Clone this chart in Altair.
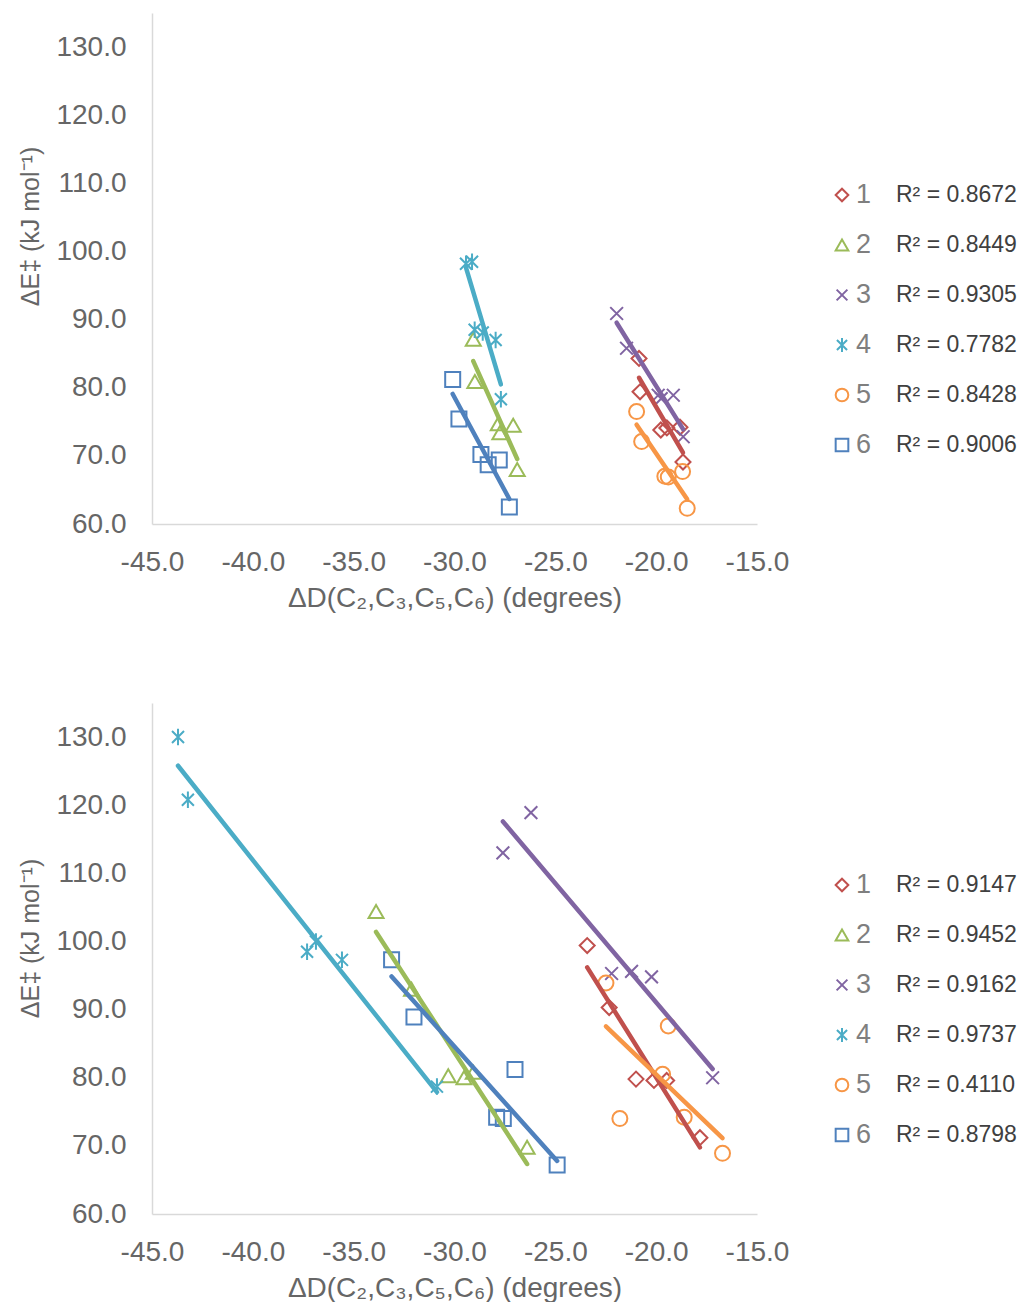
import altair as alt
import pandas as pd

SERIES = ["1", "2", "3", "4", "5", "6"]
COLORS = ["#C0504D", "#9BBB59", "#8064A2", "#4BACC6", "#F79646", "#4F81BD"]
SHAPES = [
    "diamond",
    "triangle-up",
    "M-0.85,-0.85L0.85,0.85M-0.85,0.85L0.85,-0.85",
    "M-0.8,-0.8L0.8,0.8M-0.8,0.8L0.8,-0.8M0,-1.1L0,1.1",
    "circle",
    "square",
]
X_TICKS = [-45, -40, -35, -30, -25, -20, -15]
Y_TICKS = [60, 70, 80, 90, 100, 110, 120, 130]

R2_TOP = ["0.8672", "0.8449", "0.9305", "0.7782", "0.8428", "0.9006"]
R2_BOTTOM = ["0.9147", "0.9452", "0.9162", "0.9737", "0.4110", "0.8798"]

# top panel data
top_x1 = [-20.85, -20.80, -19.77, -19.47, -18.82, -18.67]
top_y1 = [84.3, 79.4, 73.8, 74.1, 74.2, 69.1]
top_x2 = [-29.07, -28.99, -27.83, -27.09, -27.75, -26.89]
top_y2 = [87.1, 80.9, 74.7, 74.5, 73.4, 68.0]
top_x3 = [-21.96, -21.47, -19.90, -19.75, -19.15, -18.66]
top_y3 = [90.9, 85.8, 78.9, 78.4, 78.9, 72.8]
top_x4 = [-29.43, -29.13, -29.00, -28.60, -27.96, -27.70]
top_y4 = [98.2, 98.5, 88.5, 88.1, 87.0, 78.3]
top_x5 = [-20.97, -20.72, -19.57, -19.40, -18.69, -18.46]
top_y5 = [76.5, 72.1, 67.0, 66.9, 67.7, 62.3]
top_x6 = [-30.09, -29.78, -28.69, -28.33, -27.78, -27.28]
top_y6 = [81.2, 75.4, 70.2, 68.7, 69.4, 62.5]

# bottom panel data
bot_x1 = [-23.42, -22.33, -21.00, -20.11, -19.48, -17.83]
bot_y1 = [99.4, 90.3, 79.8, 79.6, 79.6, 71.2]
bot_x2 = [-33.89, -32.13, -30.31, -29.53, -29.07, -26.40]
bot_y2 = [104.4, 93.0, 80.3, 80.0, 80.8, 69.8]
bot_x3 = [-27.60, -26.21, -22.21, -21.22, -20.23, -17.20]
bot_y3 = [113.0, 118.9, 95.3, 95.6, 94.8, 80.0]
bot_x4 = [-43.71, -43.22, -37.31, -36.87, -35.58, -30.87]
bot_y4 = [130.0, 120.8, 98.5, 100.0, 97.3, 78.7]
bot_x5 = [-22.49, -19.40, -19.68, -21.80, -18.61, -16.71]
bot_y5 = [93.9, 87.6, 80.5, 74.0, 74.2, 68.9]
bot_x6 = [-33.12, -32.01, -27.00, -27.91, -27.58, -24.91]
bot_y6 = [97.3, 88.9, 81.2, 74.2, 74.0, 67.2]

FONT = "Liberation Sans"
AXIS_GREY = "#666666"
LABEL_EXPR = "replace(format(datum.value, '.1f'), '\u2212', '-')"


def build_df(xs, ys):
    rows = []
    for s, xl, yl in zip(SERIES, xs, ys):
        for xv, yv in zip(xl, yl):
            rows.append({"series": s, "x": xv, "y": yv})
    return pd.DataFrame(rows)


top_df = build_df([top_x1, top_x2, top_x3, top_x4, top_x5, top_x6],
                  [top_y1, top_y2, top_y3, top_y4, top_y5, top_y6])
bot_df = build_df([bot_x1, bot_x2, bot_x3, bot_x4, bot_x5, bot_x6],
                  [bot_y1, bot_y2, bot_y3, bot_y4, bot_y5, bot_y6])

color_scale = alt.Scale(domain=SERIES, range=COLORS)
shape_scale = alt.Scale(domain=SERIES, range=SHAPES)

PW, PH = 605, 511


def panel(df, r2, title_y, leg_range):
    x_enc = alt.X(
        "x:Q",
        scale=alt.Scale(domain=[-45, -15], nice=False, zero=False),
        axis=alt.Axis(values=X_TICKS, labelExpr=LABEL_EXPR, title="ΔD(C₂,C₃,C₅,C₆) (degrees)",
                      labelPadding=24, titlePadding=8, labelFlush=False, labelOverlap=False),
    )
    y_enc = alt.Y(
        "y:Q",
        scale=alt.Scale(domain=[60, 135], nice=False, zero=False),
        axis=alt.Axis(values=Y_TICKS, labelExpr=LABEL_EXPR, title="ΔE‡ (kJ mol⁻¹)",
                      labelPadding=26, titlePadding=12, titleY=title_y,
                      labelFlush=False, labelOverlap=False),
    )
    pts = alt.Chart(df).mark_point(filled=False, strokeWidth=2, size=225, opacity=1).encode(
        x=x_enc, y=y_enc,
        color=alt.Color("series:N", scale=color_scale, legend=None),
        shape=alt.Shape("series:N", scale=shape_scale, legend=None),
    )
    lines = alt.Chart(df).transform_regression(
        "x", "y", groupby=["series"]
    ).mark_line(strokeWidth=4.5, strokeCap="round").encode(
        x=x_enc, y=y_enc,
        color=alt.Color("series:N", scale=color_scale, legend=None),
    )
    plot = alt.layer(pts, lines).properties(width=PW, height=PH)

    leg_df = pd.DataFrame({
        "series": SERIES,
        "label": SERIES,
        "r2": ["R² = " + v for v in r2],
    })
    base = alt.Chart(leg_df).encode(
        y=alt.Y("series:N", scale=alt.Scale(type="point", domain=SERIES, range=leg_range, padding=0),
                axis=None)
    )
    sym = base.mark_point(filled=False, strokeWidth=2, size=160, opacity=1).encode(
        x=alt.value(85),
        color=alt.Color("series:N", scale=color_scale, legend=None),
        shape=alt.Shape("series:N", scale=shape_scale, legend=None),
    )
    num = base.mark_text(align="left", baseline="middle", fontSize=27, font=FONT,
                         color="#7f7f7f").encode(x=alt.value(99), text="label:N")
    r2t = base.mark_text(align="left", baseline="middle", fontSize=23, font=FONT,
                         color="#404040").encode(x=alt.value(139), text="r2:N")
    legend = alt.layer(sym, num, r2t).properties(width=255, height=PH)
    return alt.hconcat(plot, legend, spacing=0, bounds="flush")


top = panel(top_df, R2_TOP, 213, [182, 432])
bottom = panel(bot_df, R2_BOTTOM, 235, [182, 432])

chart = alt.vconcat(top, bottom, spacing=91).properties(
    padding={"left": 10, "top": 5, "right": 0, "bottom": 0}
).configure_view(stroke=None).configure_axis(
    grid=False,
    ticks=False,
    domainColor="#d9d9d9",
    domainWidth=1.5,
    labelFont=FONT,
    labelFontSize=28,
    labelColor=AXIS_GREY,
    titleFont=FONT,
    titleFontSize=28,
    titleFontWeight="normal",
    titleColor=AXIS_GREY,
).configure_axisY(titleFontSize=25)

chart.save("out.html", embed_options={"renderer": "svg", "actions": False})
